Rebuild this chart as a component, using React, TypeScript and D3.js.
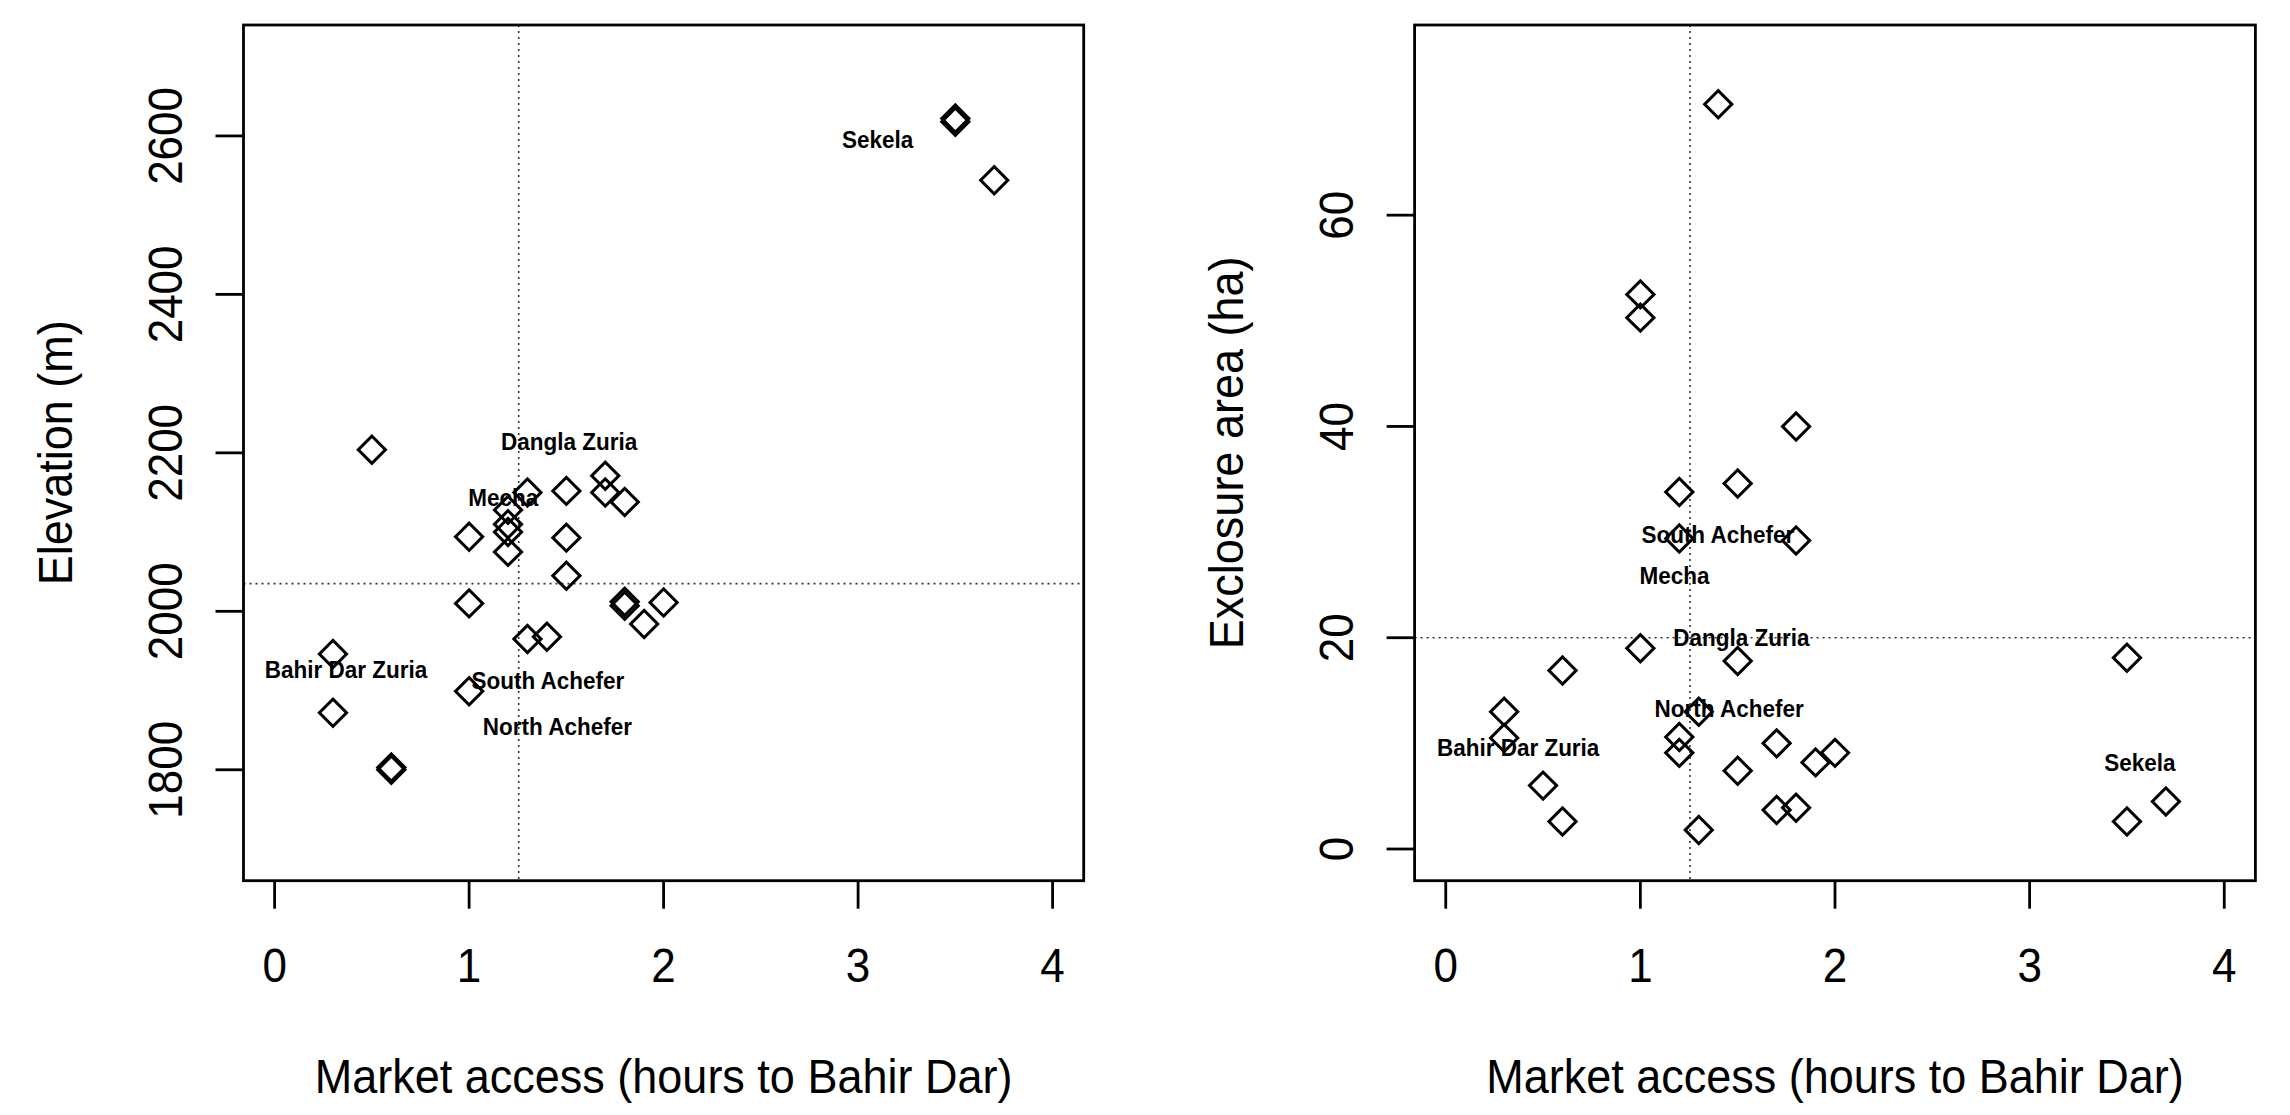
import React from "react";
import * as d3 from "d3";

// left panel: elevation vs market access
const elevAccess = [3.5, 3.5, 3.7, 0.5, 1.7, 1.7, 1.8, 1.5, 1.3, 1.2, 1.2, 1.2, 1.2, 1.0, 1.5, 1.5, 1.0, 1.8, 1.8, 2.0, 1.9, 1.3, 1.4, 0.3, 1.0, 0.3, 0.6, 0.6];
const elevation = [2618, 2622, 2544, 2204, 2171, 2150, 2138, 2152, 2150, 2128, 2110, 2100, 2075, 2094, 2093, 2045, 2010, 2012, 2007, 2011, 1984, 1965, 1968, 1946, 1899, 1872, 1800, 1803];

// right panel: exclosure area vs market access
const areaAccess = [1.4, 1.0, 1.0, 1.8, 1.5, 1.2, 1.2, 1.8, 1.0, 1.5, 0.6, 3.5, 1.3, 0.3, 0.3, 1.2, 1.2, 1.7, 2.0, 1.9, 1.5, 0.5, 1.7, 1.8, 0.6, 1.3, 3.5, 3.7];
const exclosureArea = [70.5, 52.5, 50.3, 40.0, 34.6, 33.8, 29.4, 29.2, 19.0, 17.8, 16.9, 18.1, 13.0, 13.0, 10.5, 10.6, 9.1, 10.0, 9.1, 8.2, 7.4, 6.0, 3.7, 3.9, 2.6, 1.8, 2.6, 4.5];

const woredas = ["Sekela", "Dangla Zuria", "Mecha", "Bahir Dar Zuria", "South Achefer", "North Achefer"];
const elevLabelX = [3.1, 1.514, 1.176, 0.367, 1.405, 1.454];
const elevLabelY = [2596, 2214, 2144, 1927, 1913, 1855];
const areaLabelX = [3.567, 1.519, 1.175, 0.372, 1.398, 1.456];
const areaLabelY = [8.2, 20.0, 25.9, 9.6, 29.8, 13.3];

const xTicks = [0, 1, 2, 3, 4];
const elevTicks = [1800, 2000, 2200, 2400, 2600];
const areaTicks = [0, 20, 40, 60];

const refAccess = 1.255;
const refElevation = 2035;
const refArea = 20;

const xTitle = "Market access (hours to Bahir Dar)";

const FONT = "'Liberation Sans', Arial, Helvetica, sans-serif";
const TOP = 25;
const BOTTOM = 880.7;
const STRETCH = 1.08; // glyphs in the original are a bit taller than Arial

const diamond = d3.symbol(d3.symbolSquare, 370)();

// text with a slight vertical stretch, optionally rotated
function Label({ x, y, rotate = 0, size, bold = false, children }) {
  return (
    <g transform={"translate(" + x + "," + y + ") rotate(" + rotate + ") scale(1," + STRETCH + ")"}>
      <text textAnchor="middle" fontSize={size} fontWeight={bold ? "bold" : "normal"}
        dy={bold ? "0.35em" : 0} fill="#000">
        {children}
      </text>
    </g>
  );
}

function Panel({ left, right, xs, ys, yDomain, yTicks, yTitle, refY, labelX, labelY }) {
  const x = d3.scaleLinear().domain([-0.16, 4.16]).range([left, right]);
  const y = d3.scaleLinear().domain(yDomain).range([BOTTOM, TOP]);
  const midX = (left + right) / 2;
  const midY = (TOP + BOTTOM) / 2;

  return (
    <g fontFamily={FONT}>
      {/* reference lines */}
      <line x1={x(refAccess)} x2={x(refAccess)} y1={TOP} y2={BOTTOM}
        stroke="#333" strokeWidth={1.6} strokeDasharray="2 4" />
      <line x1={left} x2={right} y1={y(refY)} y2={y(refY)}
        stroke="#333" strokeWidth={1.6} strokeDasharray="2 4" />

      {xs.map((d, i) => (
        <path key={i} d={diamond}
          transform={"translate(" + x(d) + "," + y(ys[i]) + ") rotate(45)"}
          fill="none" stroke="#000" strokeWidth={3} />
      ))}

      {woredas.map((name, i) => (
        <Label key={name} x={x(labelX[i])} y={y(labelY[i])} size={22.5} bold>{name}</Label>
      ))}

      <rect x={left} y={TOP} width={right - left} height={BOTTOM - TOP}
        fill="none" stroke="#000" strokeWidth={2.8} />

      {xTicks.map(t => (
        <g key={t}>
          <line x1={x(t)} x2={x(t)} y1={BOTTOM} y2={BOTTOM + 28} stroke="#000" strokeWidth={2.8} />
          <Label x={x(t)} y={BOTTOM + 101} size={44}>{t}</Label>
        </g>
      ))}
      <Label x={midX} y={BOTTOM + 212} size={45}>{xTitle}</Label>

      {yTicks.map(t => (
        <g key={t}>
          <line x1={left - 28} x2={left} y1={y(t)} y2={y(t)} stroke="#000" strokeWidth={2.8} />
          <Label x={left - 62} y={y(t)} rotate={-90} size={44}>{t}</Label>
        </g>
      ))}
      <Label x={left - 172} y={midY} rotate={-90} size={45}>{yTitle}</Label>
    </g>
  );
}

export default function App() {
  return (
    <svg width={2290} height={1115} style={{ position: "absolute", left: 0, top: 0, background: "#fff" }}>
      <rect width={2290} height={1115} fill="#fff" />
      <Panel left={243.5} right={1083.7} xs={elevAccess} ys={elevation}
        yDomain={[1660, 2740]} yTicks={elevTicks} yTitle="Elevation (m)"
        refY={refElevation} labelX={elevLabelX} labelY={elevLabelY} />
      <Panel left={1414.6} right={2255.4} xs={areaAccess} ys={exclosureArea}
        yDomain={[-3, 78]} yTicks={areaTicks} yTitle="Exclosure area (ha)"
        refY={refArea} labelX={areaLabelX} labelY={areaLabelY} />
    </svg>
  );
}
